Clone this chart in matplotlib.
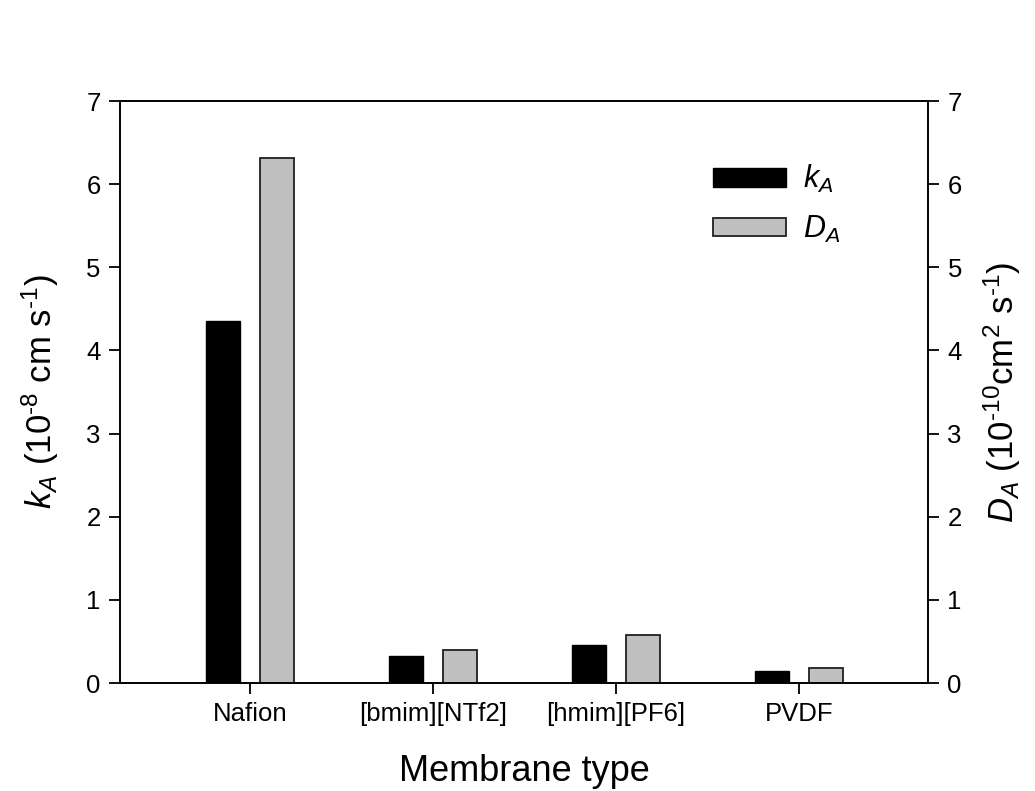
import numpy as np
import matplotlib
matplotlib.use('Agg')
import matplotlib.pyplot as plt

plt.rcParams['font.family'] = ['Liberation Sans', 'DejaVu Sans']
plt.rcParams['mathtext.fontset'] = 'custom'
plt.rcParams['mathtext.rm'] = 'Liberation Sans'
plt.rcParams['mathtext.it'] = 'Liberation Sans:italic'

membranes = ['Nafion', '[bmim][NTf2]', '[hmim][PF6]', 'PVDF']
k_A = [4.35, 0.32, 0.46, 0.14]   # 10^-8 cm s^-1
D_A = [6.31, 0.40, 0.58, 0.18]   # 10^-10 cm^2 s^-1


def main():
    fig = plt.figure(figsize=(10.35, 7.91), dpi=100)
    ax = fig.add_axes([0.1159, 0.1365, 0.7807, 0.7358])
    ax2 = ax.twinx()

    x = np.arange(len(membranes))
    w = 0.187
    off = 0.149
    b1 = ax.bar(x - off, k_A, w, color='black', edgecolor='black', linewidth=1.0)
    b2 = ax2.bar(x + off, D_A, w, color='#c0c0c0', edgecolor='#202020', linewidth=1.3)

    for a in (ax, ax2):
        a.set_ylim(0, 7)
        a.set_yticks(range(8))
        a.set_xlim(-0.71, 3.705)
        for s in a.spines.values():
            s.set_linewidth(1.2)
    ax.set_xticks(x)
    ax.set_xticklabels(membranes)
    ax.tick_params(axis='both', direction='out', length=8, width=1.3, labelsize=18.5, pad=6)
    ax2.tick_params(axis='y', direction='out', length=8, width=1.3, labelsize=18.5, pad=6)

    hy = '\u2010'
    ax.set_xlabel('Membrane type', fontsize=26, labelpad=20)
    ax.set_ylabel(r'$k_A$ (10$^{%s8}$ cm s$^{%s1}$)' % (hy, hy), fontsize=25, labelpad=18)
    ax2.set_ylabel(r'$D_A$ (10$^{%s10}$cm$^2$ s$^{%s1}$)' % (hy, hy), fontsize=25, labelpad=14)

    ax.legend([b1, b2], ['$k_A$', '$D_A$'], loc='upper left', bbox_to_anchor=(0.734, 0.893),
              frameon=False, fontsize=22, handlelength=2.39, handleheight=0.56,
              labelspacing=0.6, handletextpad=0.55, borderpad=0, borderaxespad=0)

    fig.savefig('out.png', dpi=100)


if __name__ == '__main__':
    main()
